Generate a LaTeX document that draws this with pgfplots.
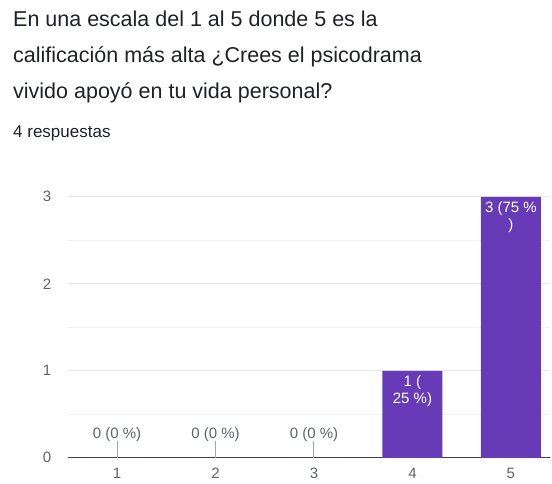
\documentclass[border=0pt]{standalone}
\usepackage{pgfplots}
\pgfplotsset{compat=1.18}
\usepackage{fontspec}
\setmainfont{Liberation Sans}
\definecolor{barc}{HTML}{673AB7}
\definecolor{tickc}{HTML}{5F6368}
\definecolor{titlec}{HTML}{202124}
\begin{document}
\begin{tikzpicture}[x=1pt,y=1pt]
\path[use as bounding box] (0,0) rectangle (552,483);
\node[anchor=base west, font=\fontsize{21.5}{24}\selectfont, text=titlec, inner sep=0] at (13,456) {En una escala del 1 al 5 donde 5 es la};
\node[anchor=base west, font=\fontsize{21.5}{24}\selectfont, text=titlec, inner sep=0] at (13,420) {calificación más alta ¿Crees el psicodrama};
\node[anchor=base west, font=\fontsize{21.5}{24}\selectfont, text=titlec, inner sep=0] at (13,384) {vivido apoyó en tu vida personal?};
\node[anchor=base west, font=\fontsize{17}{20}\selectfont, text=titlec, inner sep=0] at (13,345) {4 respuestas};
\begin{axis}[
  at={(68.75,29)}, anchor=south west,
  scale only axis, width=482.6pt, height=261pt,
  xmin=0.5, xmax=5.4, ymin=0, ymax=3,
  clip=false,
  axis lines=left,
  x axis line style={-, draw=black!75, line width=1.2pt},
  y axis line style={draw=none},
  xtick={1,2,3,4,5}, ytick={0,1,2,3}, minor ytick={0.5,1.5,2.5},
  ymajorgrids, yminorgrids,
  major grid style={draw=black!9, line width=0.9pt},
  minor grid style={draw=black!5, line width=0.9pt},
  major tick length=0pt, minor tick length=0pt,
  /pgf/number format/assume math mode=true,
  ticklabel style={font=\fontsize{15}{18}\selectfont, text=tickc},
  yticklabel style={xshift=-13pt},
  xticklabel style={yshift=-7pt},
]
\addplot[ybar, bar width=60pt, fill=barc, draw=none] coordinates {(1,0) (2,0) (3,0) (4,1) (5,3)};
\addplot[ycomb, draw=black!35, line width=0.9pt, mark=none,
  nodes near coords={0 (0 \%)},
  every node near coord/.append style={anchor=south, inner sep=0pt, yshift=-1pt, font=\fontsize{15}{18}\selectfont, text=tickc}]
  coordinates {(1,0.195) (2,0.195) (3,0.195)};
\addplot[draw=none, mark=none,
  nodes near coords={1 (\\25 \%)},
  every node near coord/.append style={anchor=north, align=center, inner sep=0pt, yshift=-5pt, font=\fontsize{15}{17}\selectfont, text=white}]
  coordinates {(4,1)};
\addplot[draw=none, mark=none,
  nodes near coords={3 (75 \%\\)},
  every node near coord/.append style={anchor=north, align=center, inner sep=0pt, yshift=-5pt, font=\fontsize{15}{17}\selectfont, text=white}]
  coordinates {(5,3)};
\end{axis}
\end{tikzpicture}
\end{document}
